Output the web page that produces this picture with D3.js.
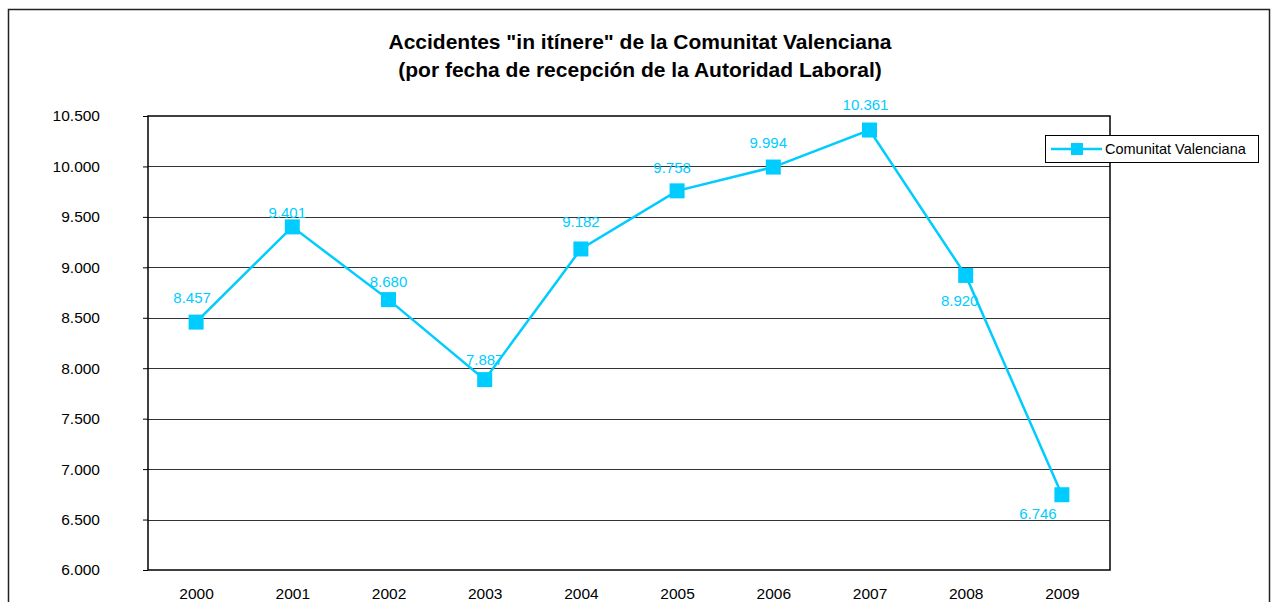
<!DOCTYPE html>
<html>
<head>
<meta charset="utf-8">
<script src="https://cdn.jsdelivr.net/npm/d3@7"></script>
<style>
  html, body { margin: 0; padding: 0; background: #fff; }
  svg { display: block; font-family: "Liberation Sans", Arial, sans-serif; }
</style>
</head>
<body>
<svg id="chart" width="1274" height="602"></svg>
<script>
// data
const years = ['2000', '2001', '2002', '2003', '2004', '2005', '2006', '2007', '2008', '2009'];
const values = [8457, 9401, 8680, 7887, 9182, 9758, 9994, 10361, 8920, 6746];
const yTicks = [6000, 6500, 7000, 7500, 8000, 8500, 9000, 9500, 10000, 10500];
const seriesName = 'Comunitat Valenciana';
const titleLines = ['Accidentes "in itínere" de la Comunitat Valenciana',
    '(por fecha de recepción de la Autoridad Laboral)'];

// label placement relative to each marker (dx, dy of baseline)
const labelShift = [[-4, -19], [-5, -9], [0, -13], [0, -15], [0, -22],
    [-5, -18], [-5, -19], [-4, -20], [-6, 31], [-24, 24]];

const color = '#00ccff';
const fmtNum = v => {
    const s = String(v);
    return s.length > 3 ? s.slice(0, s.length - 3) + '.' + s.slice(-3) : s;
};

const svg = d3.select('#chart');
const plot = {left: 148, right: 1110, top: 116, bottom: 570};

// outer frame
svg.append('rect')
    .attr('x', 8.5).attr('y', 9.5)
    .attr('width', 1261).attr('height', 620)
    .attr('fill', 'none')
    .attr('stroke', '#222')
    .attr('stroke-width', 1.5);

// title
const title = svg.append('text')
    .attr('text-anchor', 'middle')
    .attr('font-weight', 'bold')
    .attr('font-size', 21)
    .attr('fill', '#000');
titleLines.forEach((t, i) => {
    title.append('tspan')
        .attr('x', 640)
        .attr('y', 49 + i * 28)
        .text(t);
});

const x = d3.scalePoint()
    .domain(years)
    .range([plot.left, plot.right])
    .padding(0.5);

const y = d3.scaleLinear()
    .domain([6000, 10500])
    .range([plot.bottom, plot.top]);

// gridlines
svg.append('g')
    .selectAll('line')
    .data(yTicks.filter(d => d !== 6000 && d !== 10500))
    .join('line')
    .attr('x1', plot.left).attr('x2', plot.right)
    .attr('y1', d => Math.round(y(d)) + 0.5)
    .attr('y2', d => Math.round(y(d)) + 0.5)
    .attr('stroke', '#333')
    .attr('stroke-width', 1);

// plot border
svg.append('rect')
    .attr('x', plot.left).attr('y', plot.top)
    .attr('width', plot.right - plot.left)
    .attr('height', plot.bottom - plot.top)
    .attr('fill', 'none')
    .attr('stroke', '#000')
    .attr('stroke-width', 1.5);

// y axis
const yAxis = d3.axisLeft(y)
    .tickValues(yTicks)
    .tickSize(5)
    .tickPadding(43)
    .tickFormat(fmtNum);
const gy = svg.append('g')
    .attr('transform', `translate(${plot.left},0)`)
    .call(yAxis);
gy.select('.domain').remove();
gy.selectAll('.tick line').attr('stroke', '#000');
gy.selectAll('.tick text')
    .attr('font-size', 15.5)
    .attr('font-family', '"Liberation Sans", Arial, sans-serif')
    .attr('fill', '#000');

// x axis
const xAxis = d3.axisBottom(x).tickSize(0).tickPadding(18);
const gx = svg.append('g')
    .attr('transform', `translate(0,${plot.bottom})`)
    .call(xAxis);
gx.select('.domain').remove();
gx.selectAll('.tick text')
    .attr('font-size', 15.5)
    .attr('font-family', '"Liberation Sans", Arial, sans-serif')
    .attr('fill', '#000');

// series line
const line = d3.line()
    .x((d, i) => x(years[i]))
    .y(d => y(d));

svg.append('path')
    .datum(values)
    .attr('d', line)
    .attr('fill', 'none')
    .attr('stroke', color)
    .attr('stroke-width', 2.5);

// markers
const ms = 15;
svg.append('g')
    .selectAll('rect')
    .data(values)
    .join('rect')
    .attr('x', (d, i) => x(years[i]) - ms / 2)
    .attr('y', d => y(d) - ms / 2)
    .attr('width', ms)
    .attr('height', ms)
    .attr('fill', color);

// data labels
svg.append('g')
    .selectAll('text')
    .data(values)
    .join('text')
    .attr('x', (d, i) => x(years[i]) + labelShift[i][0])
    .attr('y', (d, i) => y(d) + labelShift[i][1])
    .attr('text-anchor', 'middle')
    .attr('font-size', 15)
    .attr('fill', color)
    .text(fmtNum);

// legend
const lg = svg.append('g');
lg.append('rect')
    .attr('x', 1045.5).attr('y', 135.5)
    .attr('width', 213).attr('height', 27)
    .attr('fill', '#fff')
    .attr('stroke', '#000')
    .attr('stroke-width', 1);
lg.append('line')
    .attr('x1', 1051).attr('x2', 1102)
    .attr('y1', 149).attr('y2', 149)
    .attr('stroke', color)
    .attr('stroke-width', 2.5);
lg.append('rect')
    .attr('x', 1071).attr('y', 143)
    .attr('width', 12).attr('height', 12)
    .attr('fill', color);
lg.append('text')
    .attr('x', 1105).attr('y', 154)
    .attr('font-size', 14.5)
    .attr('fill', '#000')
    .text(seriesName);
</script>
</body>
</html>
